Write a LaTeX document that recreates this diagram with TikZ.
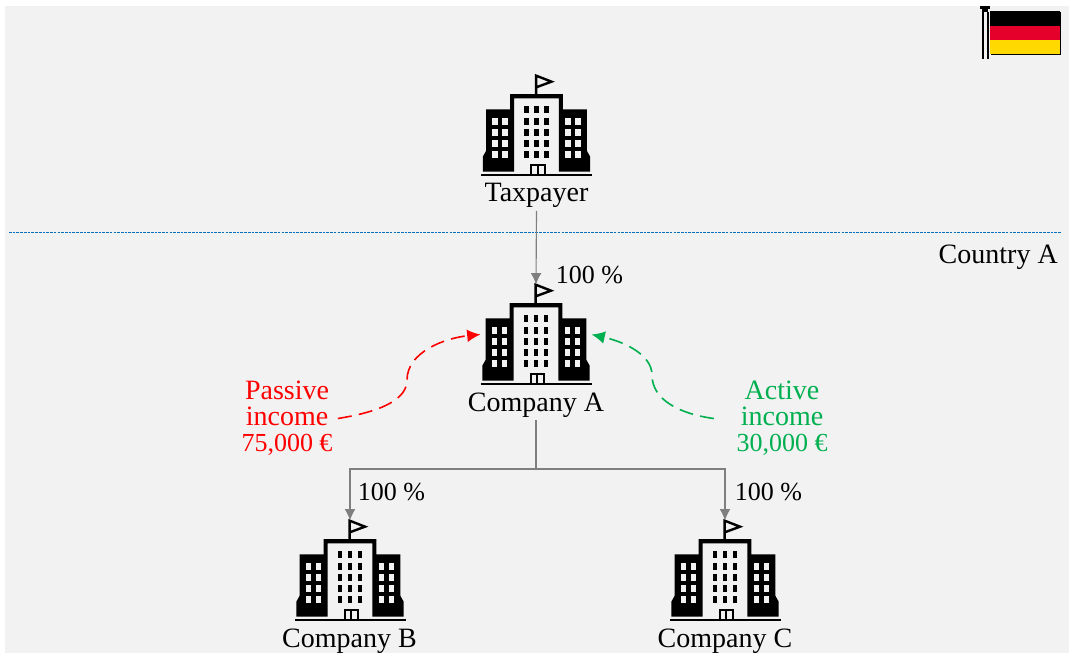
\documentclass[tikz,border=0pt]{standalone}
\usepackage{fontspec}
\setmainfont{Liberation Serif}
\usetikzlibrary{arrows.meta}
\definecolor{bgray}{HTML}{F2F2F2}
\definecolor{conn}{HTML}{7F7F7F}
\definecolor{activeg}{HTML}{00B050}
\definecolor{blineb}{HTML}{0070C0}
\definecolor{dered}{HTML}{E4002B}
\definecolor{degold}{HTML}{FFD900}
\tikzset{
  lbl/.style={font=\fontsize{21}{19.5}\selectfont, inner sep=0pt, text=black},
  pct/.style={font=\fontsize{19.5}{19.5}\selectfont, inner sep=0pt, text=black},
  bldbox/.style={minimum width=83.25pt, minimum height=75pt, inner sep=0pt, outer sep=0pt},
  multi/.style={lbl, align=center, outer sep=2pt},
  conarrow/.style={draw=conn, line width=0.85pt, -{Latex[length=8.5pt,width=8pt]}},
  conline/.style={draw=conn, line width=0.85pt},
  income/.style={line width=1.2pt, dash pattern=on 10.5pt off 5.5pt, -{Latex[length=10pt,width=9.5pt]}},
  pics/building/.style={code={
    \begin{scope}[x=0.25pt,y=-0.25pt,shift={(-229,-345)}]
      \fill[black] (68,335) -- (68,290) -- (78,272) -- (78,148) -- (150,148) -- (150,102)
        -- (308,102) -- (308,148) -- (380,148) -- (380,272) -- (390,290) -- (390,335)
        -- (296,335) -- (296,115) -- (162,115) -- (162,335) -- cycle;
      \fill[black] (63,342) rectangle (396,348);
      \foreach \yy in {174,207,240,274} {
        \foreach \xx in {96,126,315,345} {
          \fill[bgray] (\xx,\yy) rectangle ++(16,21);
        }
      }
      \foreach \yy in {139,174,207,240,274} {
        \foreach \xx in {192,222,252} {
          \fill[black] (\xx,\yy) rectangle ++(14,21);
        }
      }
      \draw[black,line width=1.5pt] (213,342) -- (213,316) -- (253,316) -- (253,342);
      \draw[black,line width=1.5pt] (233,316) -- (233,342);
      \draw[black,line width=1.8pt,line join=miter] (228,102) -- (228,47) -- (274,65) -- (228,82);
    \end{scope}
  }}
}
\begin{document}
\begin{tikzpicture}[x=0.75pt,y=-0.75pt]
\useasboundingbox (0,0) rectangle (1070,653);
\fill[white] (0,0) rectangle (1070,653);
\fill[bgray] (5,6) rectangle (1069,653);

% German flag
\fill[black] (991,12) rectangle (1061,55);
\fill[black] (990,11) rectangle (1060,26);
\fill[dered] (990,26) rectangle (1060,40);
\fill[degold] (990,40) rectangle (1060,53.5);
\fill[black] (979.5,6) rectangle (990,9);
\fill[black] (981.5,9) rectangle (988,12);
\fill[black] (982,12) rectangle (984,59);
\fill[black] (986.5,12) rectangle (988.5,59);

% separator
\draw[blineb, line width=0.6pt, dash pattern=on 2pt off 0.8pt] (9,232) -- (1061,232);
\node[lbl, anchor=east] (country) at (1058,257) {Country A};

% buildings
\node[bldbox] (tax) at (536.5,125) {};
\node[bldbox] (coa) at (536,334.5) {};
\node[bldbox] (cob) at (350,570.5) {};
\node[bldbox] (coc) at (725,570.5) {};
\pic at (536.5,175) {building};
\pic at (536,384) {building};
\pic at (350,620) {building};
\pic at (725,620) {building};

\node[lbl] (ltax) at (536.5,195.5) {Taxpayer};
\node[lbl] (lcoa) at (536,405.5) {Company A};
\node[lbl] (lcob) at (349.5,641) {Company B};
\node[lbl] (lcoc) at (725,641) {Company C};

% ownership connectors
\coordinate (bus) at (536,469);
\draw[conarrow] (ltax.south) ++(0,3) -- (coa.north);
\draw[conline] (lcoa.south) ++(0,2) -- (bus);
\draw[conarrow] (bus) -| (cob.north);
\draw[conarrow] (bus) -| (coc.north);
\node[pct] (p1) at (589.5,275.5) {100 \%};
\node[pct] (p2) at (391.5,492.5) {100 \%};
\node[pct] (p3) at (768.5,492.5) {100 \%};

% income
\node[multi, text=red] (passive) at (287,418.5) {Passive\\income\\\fontsize{19.5}{19.5}\selectfont 75,000 €};
\node[multi, text=activeg] (active) at (782,418.5) {Active\\income\\\fontsize{19.5}{19.5}\selectfont 30,000 €};
\coordinate (pm) at (407,380);
\coordinate (am) at (652,375);
\draw[income, red] ([xshift=2pt]passive.east) .. controls (385,411) and (407,398) .. (pm)
  .. controls (407,352) and (445,338) .. (coa.west);
\draw[income, activeg] ([xshift=-15pt]active.west) .. controls (680,414) and (652,400) .. (am)
  .. controls (652,355) and (625,342) .. (coa.east);
\end{tikzpicture}
\end{document}
